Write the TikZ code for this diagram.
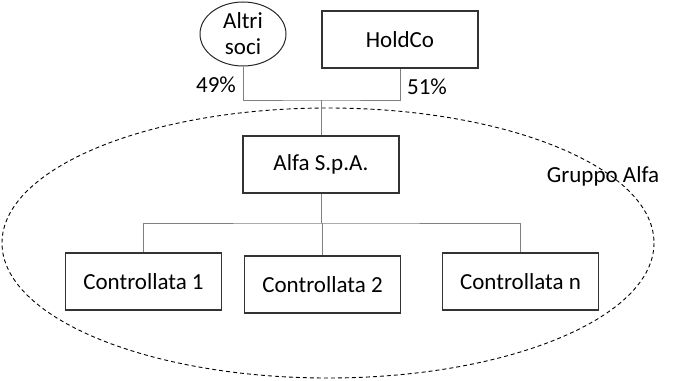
\documentclass[tikz,border=0pt]{standalone}
\usepackage{fontspec}
\setmainfont{Carlito}
\usetikzlibrary{shapes,positioning,calc}

\begin{document}
\begin{tikzpicture}[
    x=1pt, y=-1pt,
    font=\fontsize{23}{26}\selectfont,
    box/.style={rectangle, draw=black!80, line width=1.1pt, minimum width=156pt, minimum height=57pt, inner sep=0pt},
    oval/.style={ellipse, draw=black!85, line width=1pt, minimum width=86pt, minimum height=64pt, inner sep=0pt, align=center, font=\fontsize{23}{26}\selectfont},
    link/.style={draw=black!50, line width=0.9pt}
]
    \useasboundingbox (0,0) rectangle (690,380);
    % group boundary
    \draw[dashed, line width=0.9pt, dash pattern=on 4pt off 3pt] (328,243) ellipse [x radius=326, y radius=135];
    \node (gruppo) at (603,176) {Gruppo Alfa};

    \node[oval] (soci) at (243,34) {Altri\\soci};
    \node[box] (holdco) at (400,39.5) {HoldCo};
    \node[box] (alfa) at (321,164.5) {Alfa S.p.A.};
    \node[box] (ctrl1) at (143.5,281.5) {Controllata 1};
    \node[box] (ctrl2) at (322.5,284.5) {Controllata 2};
    \node[box] (ctrln) at (520.5,281.5) {Controllata n};

    \node (p49) at (216,85) {49\%};
    \node (p51) at (427,87) {51\%};

    % ownership
    \coordinate (own) at (alfa.north |- 0,100);
    \draw[link] (soci.south) |- (own) -| (holdco.south);
    \draw[link] (own) -- (alfa.north);

    % subsidiaries
    \coordinate (sub) at (alfa.south |- 0,223);
    \draw[link] (alfa.south) -- (sub);
    \draw[link] (ctrl1.north) |- (sub) -| (ctrln.north);
    \draw[link] (sub -| ctrl2.north) -- (ctrl2.north);
\end{tikzpicture}
\end{document}
